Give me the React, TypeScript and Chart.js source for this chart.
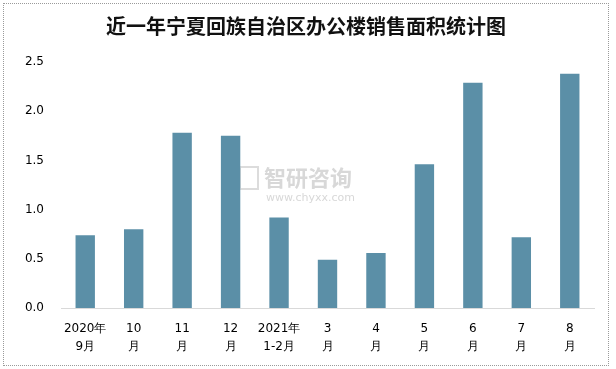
import React, { useEffect, useRef } from "react";
import { Chart, registerables } from "chart.js";

Chart.register(...registerables);

const TITLE = "近一年宁夏回族自治区办公楼销售面积统计图";
const categories: string[][] = [
  ["2020年", "9月"],
  ["10", "月"],
  ["11", "月"],
  ["12", "月"],
  ["2021年", "1-2月"],
  ["3", "月"],
  ["4", "月"],
  ["5", "月"],
  ["6", "月"],
  ["7", "月"],
  ["8", "月"],
];
const salesArea: number[] = [0.74, 0.8, 1.78, 1.75, 0.92, 0.49, 0.56, 1.46, 2.29, 0.72, 2.38];
const BAR_COLOR = "#5b8fa7";

const titlePlugin = {
  id: "customTitle",
  afterDraw(chart: any) {
    const ctx = chart.ctx;
    ctx.save();
    ctx.font = "bold 20px 'Noto Sans CJK SC', serif";
    ctx.fillStyle = "#111";
    ctx.textAlign = "center";
    ctx.textBaseline = "middle";
    ctx.fillText(TITLE, 306, 26);
    ctx.restore();
  },
};

const watermarkPlugin = {
  id: "watermark",
  beforeDatasetsDraw(chart: any) {
    const ctx = chart.ctx;
    ctx.save();
    ctx.strokeStyle = "#dcdcdc";
    ctx.lineWidth = 2;
    ctx.strokeRect(240, 167, 18, 22);
    ctx.fillStyle = "#d8d8d8";
    ctx.textAlign = "left";
    ctx.textBaseline = "middle";
    ctx.font = "bold 22px 'Noto Sans CJK SC', sans-serif";
    ctx.fillText("智研咨询", 264, 178);
    ctx.font = "11px 'DejaVu Sans', sans-serif";
    ctx.fillText("www.chyxx.com", 266, 198);
    ctx.restore();
  },
};

export default function App() {
  const ref = useRef<HTMLCanvasElement | null>(null);
  useEffect(() => {
    document.body.style.margin = "0";
    const chart = new Chart(ref.current as HTMLCanvasElement, {
      type: "bar",
      data: {
        labels: categories,
        datasets: [
          {
            data: salesArea,
            backgroundColor: BAR_COLOR,
            barPercentage: 0.4,
            categoryPercentage: 1,
          },
        ],
      },
      options: {
        responsive: false,
        animation: false,
        layout: { padding: { top: 62, right: 22, bottom: 0, left: 0 } },
        plugins: { legend: { display: false }, title: { display: false }, tooltip: { enabled: false } },
        scales: {
          x: {
            grid: { display: false, drawTicks: false },
            border: { display: true, color: "#d9d9d9", width: 1 },
            afterFit: (scale: any) => {
              scale.height = 61;
            },
            ticks: {
              color: "#000",
              padding: 12,
              maxRotation: 0,
              autoSkip: false,
              font: { family: "'DejaVu Sans', Verdana, sans-serif", size: 12, lineHeight: 1.5 },
            },
          },
          y: {
            min: 0,
            max: 2.5,
            grid: { display: false, drawTicks: false },
            border: { display: false },
            afterFit: (scale: any) => {
              scale.width = 61;
            },
            ticks: {
              stepSize: 0.5,
              color: "#000",
              padding: 17,
              font: { family: "'DejaVu Sans', Verdana, sans-serif", size: 12 },
              callback: (v: any) => Number(v).toFixed(1),
            },
          },
        },
      },
      plugins: [titlePlugin, watermarkPlugin],
    });
    return () => chart.destroy();
  }, []);
  return (
    <div style={{ position: "absolute", left: 0, top: 0, width: 616, height: 369, background: "#fff" }}>
      <canvas ref={ref} width={616} height={369} style={{ display: "block" }} />
      <div
        style={{
          position: "absolute",
          left: 3,
          top: 3,
          width: 604,
          height: 361,
          border: "1px dotted #9a9a9a",
          pointerEvents: "none",
        }}
      />
    </div>
  );
}
